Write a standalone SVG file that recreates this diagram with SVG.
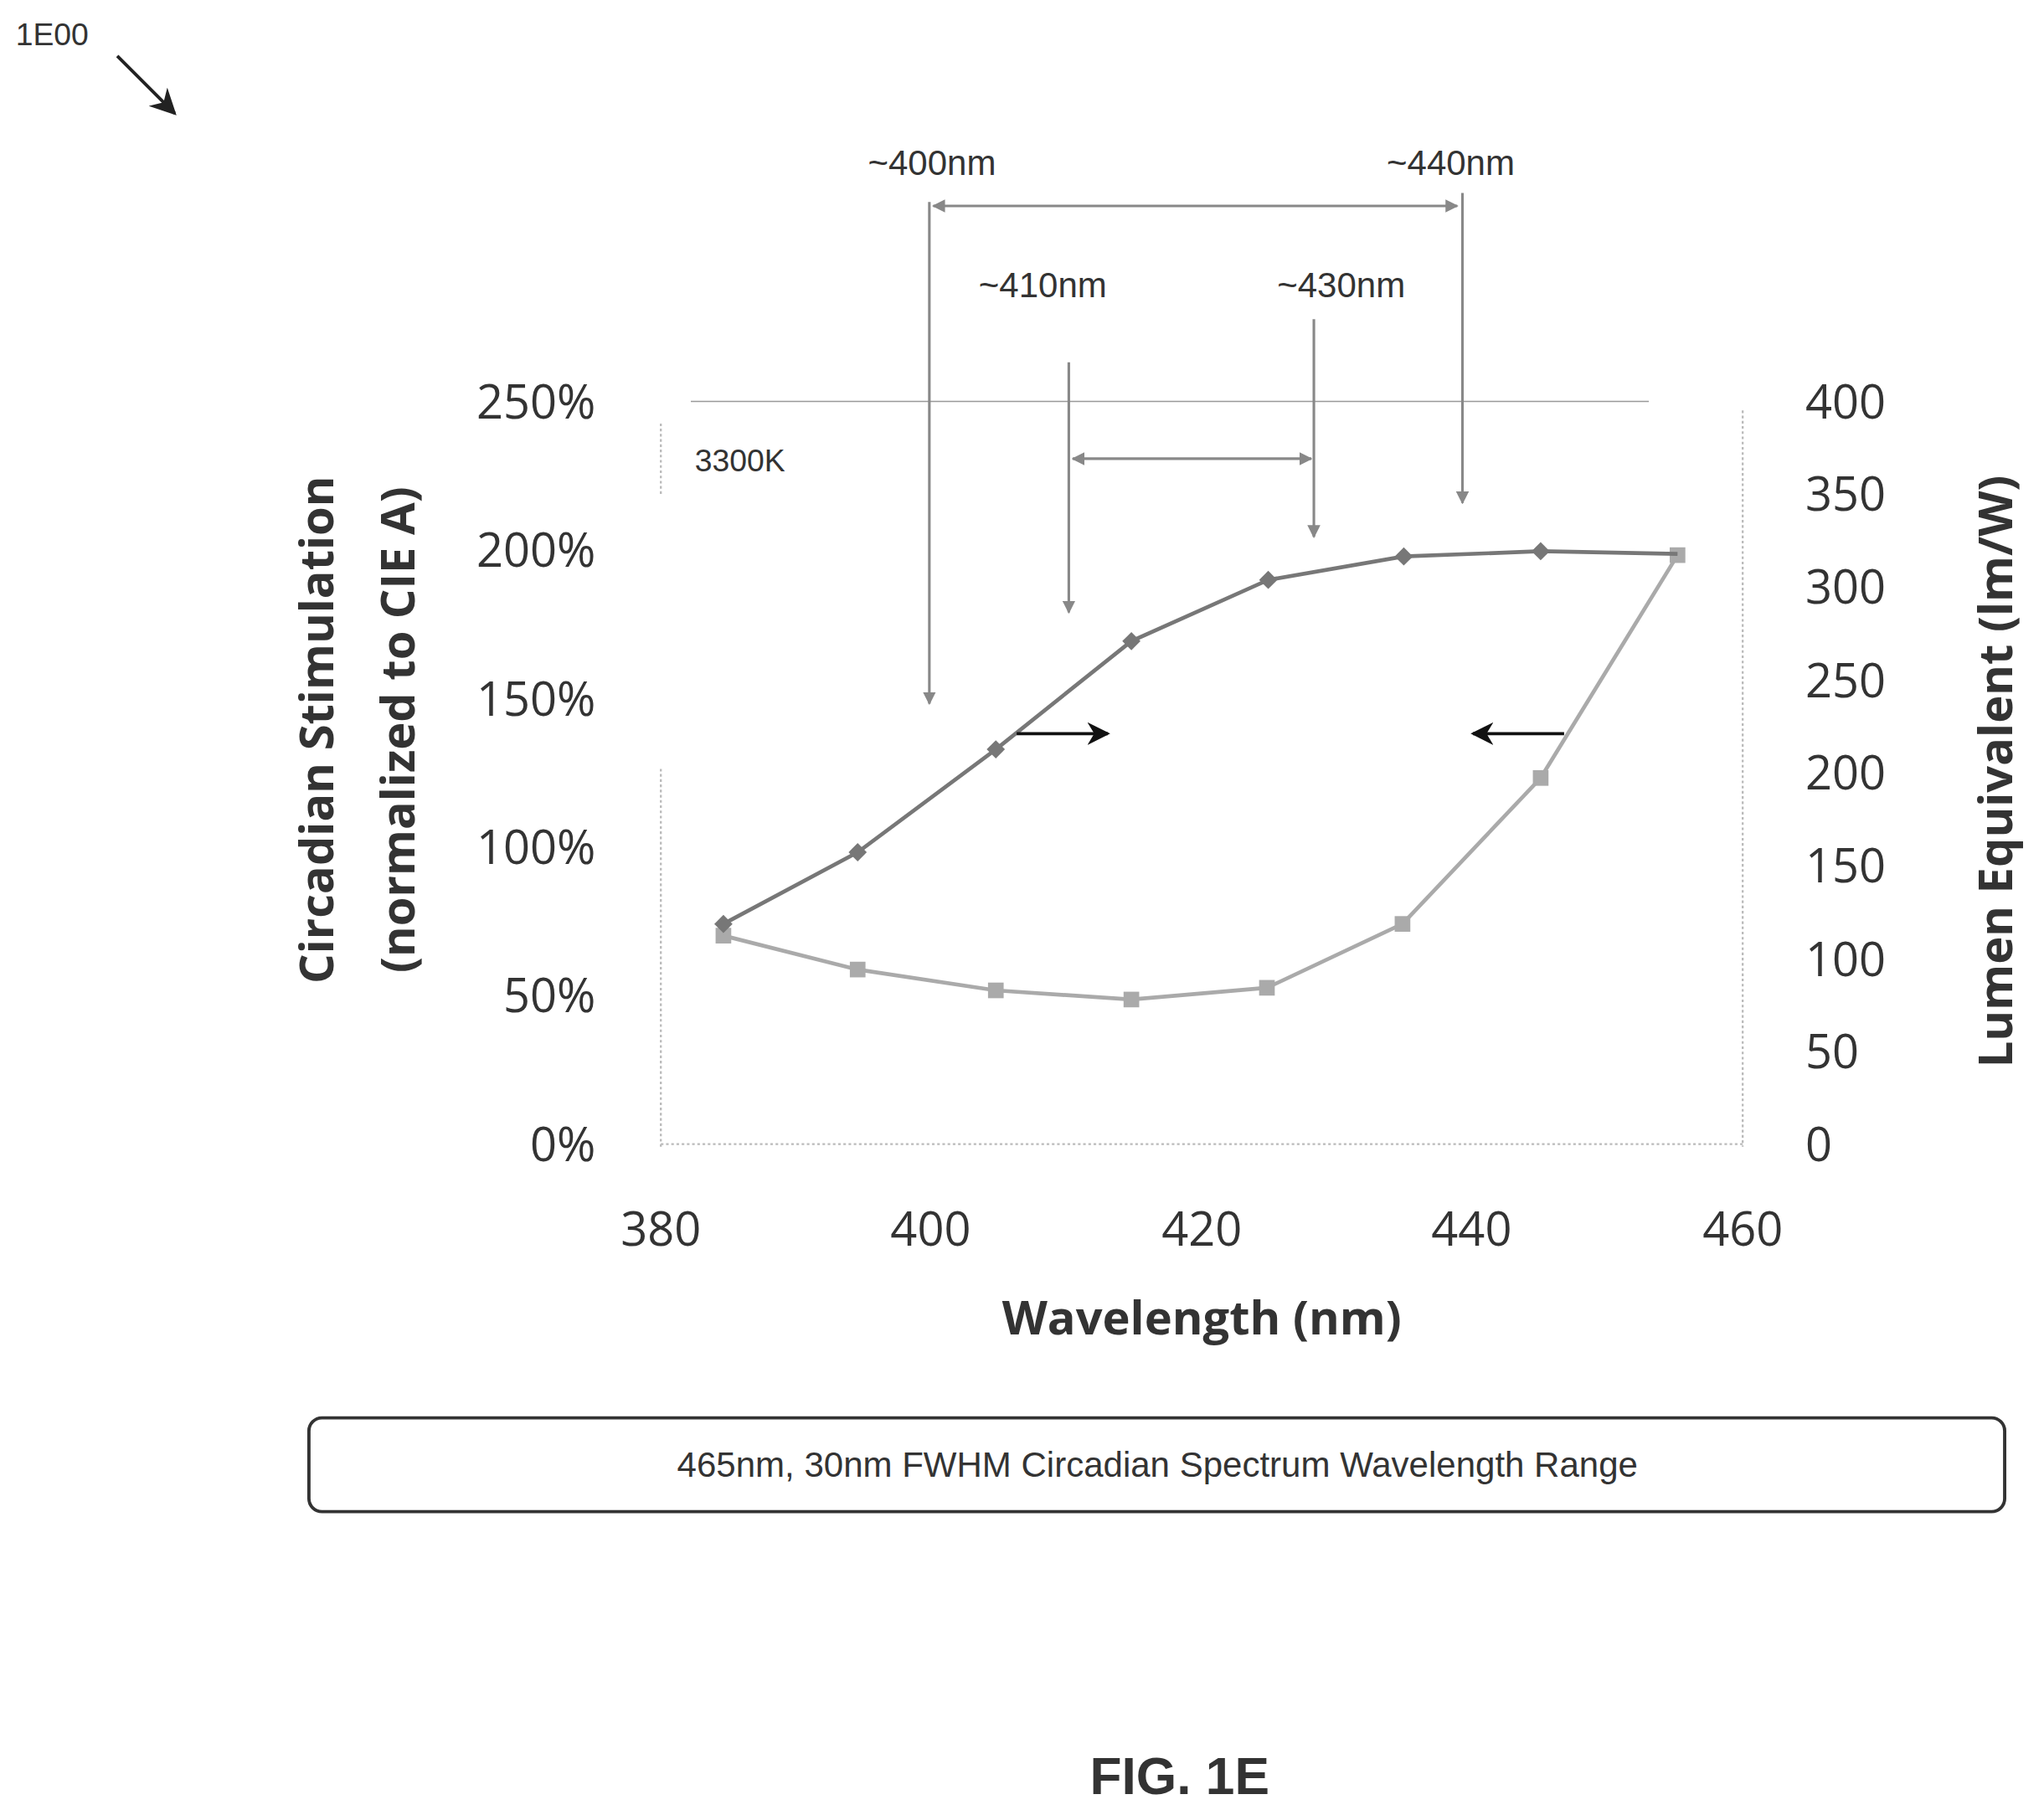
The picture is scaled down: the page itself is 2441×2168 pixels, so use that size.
<svg xmlns="http://www.w3.org/2000/svg" width="2441" height="2168" viewBox="0 0 2441 2168">
<defs>
<style>
.t{font-family:"Liberation Sans",Arial,sans-serif;fill:#333}
.k{font-family:"Open Sans","Noto Sans",sans-serif;fill:#333;font-size:36px}
.b{font-family:"Open Sans","Noto Sans",sans-serif;font-weight:bold;fill:#333;font-size:36px}
.g{stroke:#888;stroke-width:2;fill:none}
.ax{stroke:#bbb;stroke-width:1.5;stroke-dasharray:2 2;fill:none}
</style>
<marker id="ag" viewBox="0 0 10 10" refX="9" refY="5" markerWidth="5" markerHeight="5" orient="auto-start-reverse"><path d="M0,0L10,5L0,10z" fill="#888"/></marker>
<marker id="ab" viewBox="0 0 10 10" refX="9" refY="5" markerWidth="7" markerHeight="7" orient="auto"><path d="M0,0L10,5L0,10L3,5z" fill="#111"/></marker>
<marker id="a1" viewBox="0 0 10 10" refX="9" refY="5" markerWidth="8" markerHeight="8" orient="auto"><path d="M0,0L10,5L0,10L3,5z" fill="#222"/></marker>
</defs>
<rect width="2441" height="2168" fill="#fff"/>
<g transform="scale(1.5566)">
<g id="label1E00"><text class="t" x="12" y="35" font-size="24">1E00</text>
<line x1="90" y1="43" x2="134" y2="87" stroke="#222" stroke-width="2.5" marker-end="url(#a1)"/></g>
<g id="axes">
<line class="ax" x1="530" y1="308" x2="1265" y2="308" style="stroke:#999;stroke-dasharray:none;stroke-width:1"/>
<line class="ax" x1="507" y1="590" x2="507" y2="880"/>
<line class="ax" x1="507" y1="878" x2="1337" y2="878"/>
<line class="ax" x1="1337" y1="315" x2="1337" y2="880"/>
<line class="ax" x1="507" y1="325" x2="507" y2="380"/>
</g>
<g id="ticks" class="k">
<g text-anchor="end"><text x="457" y="321">250%</text><text x="457" y="435">200%</text><text x="457" y="549">150%</text><text x="457" y="663">100%</text><text x="457" y="777">50%</text><text x="457" y="891">0%</text></g>
<g><text x="1385" y="321">400</text><text x="1385" y="392">350</text><text x="1385" y="463">300</text><text x="1385" y="535">250</text><text x="1385" y="606">200</text><text x="1385" y="677">150</text><text x="1385" y="749">100</text><text x="1385" y="820">50</text><text x="1385" y="891">0</text></g>
<g text-anchor="middle"><text x="507" y="956">380</text><text x="714" y="956">400</text><text x="922" y="956">420</text><text x="1129" y="956">440</text><text x="1337" y="956">460</text></g>
</g>
<g id="titles">
<text class="b" transform="translate(256,560) rotate(-90)" text-anchor="middle">Circadian Stimulation</text>
<text class="b" transform="translate(318,560) rotate(-90)" text-anchor="middle">(normalized to CIE A)</text>
<text class="b" transform="translate(1544,592) rotate(-90)" text-anchor="middle">Lumen Equivalent (lm/W)</text>
<text class="b" x="922" y="1024" text-anchor="middle" font-size="40">Wavelength (nm)</text>
<text class="t" x="533" y="362" font-size="24">3300K</text>
</g>
<g id="series-lumen">
<polyline points="555,718 658,744 764,760 868,767 972,758 1076,709 1182,597 1287,426" fill="none" stroke="#aaa" stroke-width="3"/>
<g fill="#aaa"><rect x="549" y="712" width="12" height="12"/><rect x="652" y="738" width="12" height="12"/><rect x="758" y="754" width="12" height="12"/><rect x="862" y="761" width="12" height="12"/><rect x="966" y="752" width="12" height="12"/><rect x="1070" y="703" width="12" height="12"/><rect x="1176" y="591" width="12" height="12"/><rect x="1281" y="420" width="12" height="12"/></g>
</g>
<g id="series-circadian">
<polyline points="555,709 658,654 764,575 868,492 973,445 1077,427 1182,423 1287,425" fill="none" stroke="#777" stroke-width="3"/>
<g fill="#777"><path d="M555,702l7,7l-7,7l-7,-7z"/><path d="M658,647l7,7l-7,7l-7,-7z"/><path d="M764,568l7,7l-7,7l-7,-7z"/><path d="M868,485l7,7l-7,7l-7,-7z"/><path d="M973,438l7,7l-7,7l-7,-7z"/><path d="M1077,420l7,7l-7,7l-7,-7z"/><path d="M1182,416l7,7l-7,7l-7,-7z"/></g>
</g>
<g id="connectors">
<line class="g" x1="713" y1="155" x2="713" y2="540" marker-end="url(#ag)"/>
<line class="g" x1="820" y1="278" x2="820" y2="470" marker-end="url(#ag)"/>
<line class="g" x1="1008" y1="245" x2="1008" y2="412" marker-end="url(#ag)"/>
<line class="g" x1="1122" y1="148" x2="1122" y2="386" marker-end="url(#ag)"/>
<line class="g" x1="716" y1="158" x2="1118" y2="158" marker-start="url(#ag)" marker-end="url(#ag)"/>
<line class="g" x1="823" y1="352" x2="1006" y2="352" marker-start="url(#ag)" marker-end="url(#ag)"/>
<line x1="780" y1="563" x2="850" y2="563" stroke="#111" stroke-width="2.5" marker-end="url(#ab)"/>
<line x1="1200" y1="563" x2="1130" y2="563" stroke="#111" stroke-width="2.5" marker-end="url(#ab)"/>
</g>
<g id="nm-labels" class="t" font-size="27" text-anchor="middle">
<text x="715" y="134">~400nm</text><text x="1113" y="134">~440nm</text>
<text x="800" y="228">~410nm</text><text x="1029" y="228">~430nm</text>
</g>
<g id="legend">
<rect x="237" y="1088" width="1301" height="72" rx="10" fill="#fff" stroke="#333" stroke-width="2.5"/>
<text class="t" x="888" y="1133" font-size="27" text-anchor="middle">465nm, 30nm FWHM Circadian Spectrum Wavelength Range</text>
</g>
<text class="t" x="905" y="1377" font-size="40" font-weight="bold" text-anchor="middle">FIG. 1E</text>
</g>
</svg>
